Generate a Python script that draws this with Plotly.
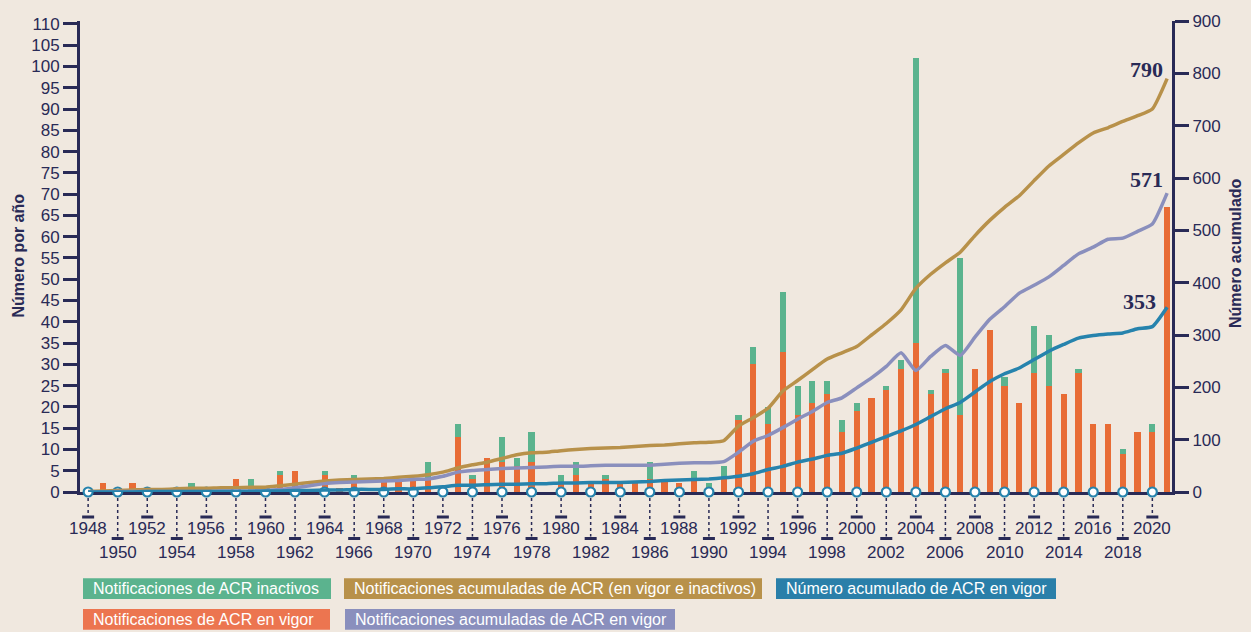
import plotly.graph_objects as go

# ─── Data ─────────────────────────────────────────────────────────────────────
years = list(range(1948, 2022))

# Notificaciones de ACR en vigor (orange bars)
en_vigor = [
    0, 2, 0, 2, 0, 0, 0, 0, 0, 0,      # 1948-1957
    3, 0, 0, 4, 5, 0, 4, 1, 3, 0,      # 1958-1967
    3, 3, 3, 3, 0, 13, 3, 8, 7, 6,     # 1968-1977
    7, 0, 2, 4, 2, 3, 2, 2, 3, 3,      # 1978-1987
    2, 3, 1, 3, 17, 30, 16, 33, 18, 21,  # 1988-1997
    23, 14, 19, 22, 24, 29, 35, 23, 28, 18,  # 1998-2007
    29, 38, 25, 21, 28, 25, 23, 28, 16, 16,  # 2008-2017
    9, 14, 14, 67,                     # 2018-2021
]

# Notificaciones de ACR inactivos (green bars)
inactivos = [
    0, 0, 1, 0, 0, 0, 0, 2, 0, 0,
    0, 3, 0, 1, 0, 0, 1, 0, 1, 0,
    0, 0, 0, 4, 0, 3, 1, 0, 6, 2,
    7, 0, 2, 3, 0, 1, 0, 0, 4, 0,
    0, 2, 1, 3, 1, 4, 4, 14, 7, 5,
    3, 3, 2, 0, 1, 2, 67, 1, 1, 37,
    0, 0, 2, 0, 11, 12, 0, 1, 0, 0,
    1, 0, 2, 0,
]

# Notificaciones acumuladas de ACR (en vigor e inactivos)
acum_total = [
    1, 2, 3, 4, 5, 5, 6, 7, 7, 8,
    8, 9, 9, 12, 15, 18, 21, 23, 24, 25,
    26, 28, 30, 33, 38, 46, 52, 57, 64, 71,
    75, 76, 79, 81, 83, 84, 85, 87, 89, 90,
    92, 94, 95, 98, 126, 142, 160, 193, 213, 234,
    254, 266, 278, 300, 322, 348, 389, 416, 438, 458,
    490, 519, 544, 566, 595, 623, 645, 667, 686, 696,
    708, 719, 732, 790,
]

# Notificaciones acumuladas de ACR en vigor
acum_vigor = [
    0, 0, 1, 1, 1, 1, 1, 1, 1, 2,
    2, 2, 3, 5, 8, 12, 16, 18, 19, 20,
    21, 22, 24, 25, 30, 38, 41, 43, 45, 46,
    47, 48, 49, 49, 50, 51, 51, 51, 51, 53,
    55, 56, 56, 58, 76, 97, 108, 123, 139, 154,
    171, 180, 199, 218, 240, 266, 232, 259, 280, 261,
    296, 330, 354, 380, 395, 411, 433, 455, 468, 483,
    485, 498, 512, 571,
]

# Número acumulado de ACR en vigor
acr_vigor = [
    0, 0, 0, 0, 1, 1, 1, 1, 1, 1,
    1, 1, 2, 2, 3, 3, 4, 4, 5, 5,
    5, 6, 6, 8, 10, 13, 13, 14, 15, 15,
    16, 16, 17, 17, 18, 18, 18, 19, 20, 22,
    23, 24, 25, 27, 30, 35, 43, 49, 57, 63,
    70, 74, 84, 95, 106, 117, 129, 144, 159, 171,
    191, 211, 226, 237, 253, 269, 282, 294, 299, 302,
    304, 312, 316, 353,
]

tick_years = list(range(1948, 2021, 2))

end_labels = [("790", 790), ("571", 571), ("353", 353)]

# ─── Style ────────────────────────────────────────────────────────────────────
BG = "#f0e8df"
NAVY = "#292a56"
GREEN = "#5bb38e"
ORANGE = "#e86c35"
GOLD = "#b8914a"
LAVENDER = "#8a8fbd"
BLUE = "#2683ad"

L, R, T, B = 80, 79, 17, 140
W, H = 1251, 632
PW, PH = W - L - R, H - T - B


def xp(px):
    return (px - L) / PW


def yp(py):
    return (H - B - py) / PH


fig = go.Figure()

fig.add_bar(x=years, y=en_vigor, marker=dict(color=ORANGE, line_width=0),
            width=0.42, name="Notificaciones de ACR en vigor")
fig.add_bar(x=years, y=inactivos, marker=dict(color=GREEN, line_width=0),
            width=0.42, name="Notificaciones de ACR inactivos")

for vals, col in [(acum_total, GOLD), (acum_vigor, LAVENDER), (acr_vigor, BLUE)]:
    fig.add_scatter(x=years, y=vals, yaxis="y2", mode="lines",
                    line=dict(color=col, width=3.5, shape="spline", smoothing=0.5),
                    cliponaxis=False)

fig.add_scatter(x=tick_years, y=[0] * len(tick_years), mode="markers",
                marker=dict(size=9, color="white", line=dict(color=BLUE, width=2.2)),
                cliponaxis=False)

shapes = []
annotations = []
for i, yr in enumerate(tick_years):
    low = i % 2 == 1
    tick_off = -46.5 if low else -25
    shapes.append(dict(type="line", xref="x", yref="paper", ysizemode="pixel",
                       yanchor=0, x0=yr, x1=yr, y0=-6, y1=tick_off + 2,
                       line=dict(color=NAVY, width=1.5, dash="dot")))
    shapes.append(dict(type="line", xref="x", yref="paper", xsizemode="pixel",
                       ysizemode="pixel", xanchor=yr, yanchor=0,
                       x0=-6, x1=6, y0=tick_off, y1=tick_off,
                       line=dict(color=NAVY, width=3)))
    annotations.append(dict(x=yr, y=0, xref="x", yref="paper", text=str(yr),
                            showarrow=False, yanchor="middle",
                            yshift=-60 if low else -36.6,
                            font=dict(size=17, color=NAVY)))

for txt, val in end_labels:
    shift = {"790": (-2, 9), "571": (-2, 14), "353": (-9, 6)}[txt]
    annotations.append(dict(x=2021, y=val, xref="x", yref="y2", text=txt,
                            showarrow=False, xanchor="right", yanchor="middle",
                            xshift=shift[0], yshift=shift[1],
                            font=dict(size=22, color=NAVY,
                                      family="Liberation Serif", weight="bold")))

annotations.append(dict(x=xp(18.5), y=yp(254), xref="paper", yref="paper",
                        text="<b>Número por año</b>", textangle=-90, showarrow=False,
                        xanchor="center", yanchor="middle",
                        font=dict(size=16, color=NAVY)))
annotations.append(dict(x=xp(1235), y=yp(251), xref="paper", yref="paper",
                        text="<b>Número acumulado</b>", textangle=-90, showarrow=False,
                        xanchor="center", yanchor="middle",
                        font=dict(size=16, color=NAVY)))

legend_boxes = [
    ("Notificaciones de ACR inactivos", GREEN, 83, 331, 579, 600),
    ("Notificaciones acumuladas de ACR (en vigor e inactivos)", GOLD, 344, 762, 579, 600),
    ("Número acumulado de ACR en vigor", "#2a7fa9", 776, 1056, 579, 600),
    ("Notificaciones de ACR en vigor", "#ec7550", 83, 330, 610, 631),
    ("Notificaciones acumuladas de ACR en vigor", LAVENDER, 345, 675, 610, 631),
]
for txt, col, x0, x1, y0, y1 in legend_boxes:
    shapes.append(dict(type="rect", xref="paper", yref="paper",
                       x0=xp(x0), x1=xp(x1), y0=yp(y0), y1=yp(y1),
                       fillcolor=col, line_width=0))
    annotations.append(dict(x=xp(x0 + 8), y=yp((y0 + y1) / 2), xref="paper", yref="paper",
                            text=txt, showarrow=False, xanchor="left", yanchor="middle",
                            font=dict(size=16, color="white", family="Liberation Sans")))

axis_common = dict(showgrid=False, zeroline=False, showline=True, linecolor=NAVY,
                   linewidth=3, ticks="outside", ticklen=14, tickwidth=3,
                   tickcolor=NAVY, tickfont=dict(size=17, color=NAVY))

fig.update_layout(
    width=W, height=H,
    paper_bgcolor=BG, plot_bgcolor=BG,
    barmode="stack", showlegend=False,
    margin=dict(l=L, r=R, t=T, b=B),
    font=dict(family="Liberation Sans, Arial, sans-serif", color=NAVY),
    xaxis=dict(range=[1947.45, 2021.33], showgrid=False, zeroline=False,
               showline=True, linecolor=NAVY, linewidth=3, showticklabels=False,
               ticks="", layer="below traces"),
    yaxis=dict(range=[0, 110.7], tick0=0, dtick=5, **axis_common),
    yaxis2=dict(range=[0, 900], tick0=0, dtick=100, overlaying="y", side="right",
                **axis_common),
    shapes=shapes,
    annotations=annotations,
)

fig.write_html("out.html", config={"displayModeBar": False},
               post_script="document.body.style.margin='0';"
                           "document.body.style.overflow='hidden';")
